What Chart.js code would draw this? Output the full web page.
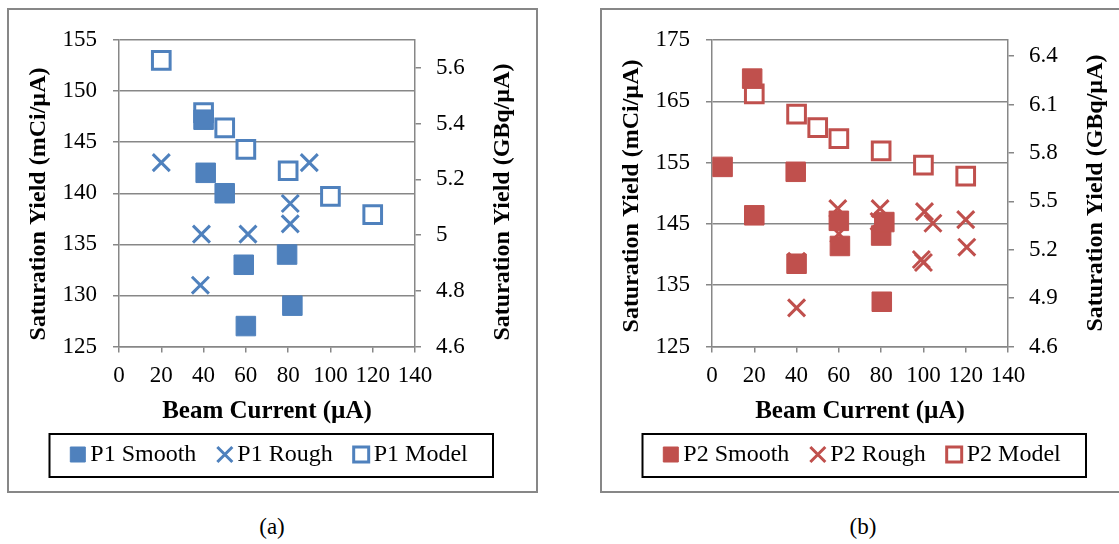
<!DOCTYPE html>
<html><head><meta charset="utf-8">
<script src="https://cdn.jsdelivr.net/npm/chart.js@4.4.0/dist/chart.umd.min.js"></script>
<style>
html,body{margin:0;padding:0;background:#fff;width:1119px;height:544px;overflow:hidden;position:relative;font-family:"Liberation Serif",serif;}
.frame{position:absolute;top:8px;width:527px;height:481px;border:2px solid #878787;background:#fff;}
.frame canvas{display:block;}
.cap{position:absolute;top:514px;width:100px;text-align:center;font-size:23px;line-height:26px;color:#000;}
</style></head><body>
<div class="frame" style="left:7px"><canvas id="c1" width="527" height="481"></canvas></div>
<div class="frame" style="left:600px"><canvas id="c2" width="527" height="481"></canvas></div>
<div class="cap" style="left:222px">(a)</div>
<div class="cap" style="left:813px">(b)</div>
<script>
// ---------- data ----------
const xTitle = 'Beam Current (µA)';
const yTitleLeft = 'Saturation Yield (mCi/µA)';
const yTitleRight = 'Saturation Yield (GBq/µA)';

const p1SmoothX = [40, 41, 50, 59, 60, 79.5, 82];
const p1SmoothY = [147.2, 142, 140, 133, 127, 134, 129];
const p1RoughX = [20, 39, 61, 38.5, 81, 81, 90];
const p1RoughY = [143, 136, 136, 131, 139, 137, 143];
const p1ModelX = [20, 40, 50, 60, 80, 100, 120];
const p1ModelY = [153, 147.9, 146.4, 144.3, 142.2, 139.7, 137.9];

const p2SmoothX = [5, 19, 20, 39.6, 40, 60, 60.5, 80, 81.5, 80.3];
const p2SmoothY = [154.3, 168.7, 146.4, 153.5, 138.5, 145.5, 141.4, 143.1, 145.3, 132.3];
const p2RoughX = [40, 40, 59.5, 60, 79.5, 79, 100.5, 104.5, 99, 100, 120, 120.5];
const p2RoughY = [131.3, 138.9, 147.5, 143.4, 147.5, 145.4, 147, 145.1, 139.2, 138.7, 145.7, 141.2];
const p2ModelX = [20, 40, 50, 60, 80, 100, 120];
const p2ModelY = [166.2, 162.9, 160.7, 158.9, 156.9, 154.6, 152.8];

const xTicksRange = [0, 140, 20];
const p1MciRange = [125, 155, 5];
const p2MciRange = [125, 175, 10];
const p1GbqTicks = [4.6, 4.8, 5, 5.2, 5.4, 5.6];
const p1GbqRange = [4.6, 5.7];
const p2GbqTicks = [4.6, 4.9, 5.2, 5.5, 5.8, 6.1, 6.4];
const p2GbqRange = [4.6, 6.5];

// ---------- styling ----------
const BLUE = '#4F81BD', RED = '#C0504D', GRID = '#878787';
const FONT = 'Liberation Serif';

const pts = (xs, ys) => xs.map((x, i) => ({x, y: ys[i]}));

function datasets(prefix, color, sx, sy, rx, ry, mx, my) {
  return [
    {label: prefix + ' Smooth', data: pts(sx, sy), pointStyle: 'rect', radius: 13.8,
     backgroundColor: color, borderColor: color, borderWidth: 1, yAxisID: 'y'},
    {label: prefix + ' Rough', data: pts(rx, ry), pointStyle: 'crossRot', radius: 12,
     backgroundColor: color, borderColor: color, borderWidth: 3, yAxisID: 'y'},
    {label: prefix + ' Model', data: pts(mx, my), pointStyle: 'rect', radius: 12.5,
     backgroundColor: '#ffffff', borderColor: color, borderWidth: 3, yAxisID: 'y'}
  ];
}

const framePlugin = {
  id: 'framePlugin',
  afterDraw(chart, args, opts) {
    const ctx = chart.ctx;
    ctx.save();
    ctx.strokeStyle = '#000';
    ctx.lineWidth = 2;
    ctx.strokeRect(opts.box[0], opts.box[1], opts.box[2], opts.box[3]);
    ctx.fillStyle = '#000';
    ctx.font = 'bold 24px "' + FONT + '"';
    ctx.textAlign = 'center';
    ctx.textBaseline = 'middle';
    opts.titles.forEach(t => {
      ctx.save();
      ctx.translate(t[1], t[2]);
      ctx.rotate(-Math.PI / 2);
      ctx.fillText(t[0], 0, 0);
      ctx.restore();
    });
    ctx.restore();
  }
};

function makeChart(id, ds, mciRange, gbqTicks, gbqRange, titlePos) {
  const tickFont = {family: FONT, size: 23};
  return new Chart(document.getElementById(id), {
    type: 'scatter',
    data: {datasets: ds},
    plugins: [framePlugin],
    options: {
      responsive: false,
      animation: false,
      devicePixelRatio: 1,
      layout: {padding: {left: 0, right: 0, top: 30, bottom: 14.5}},
      plugins: {
        tooltip: {enabled: false},
        legend: {
          position: 'bottom',
          labels: {usePointStyle: true, boxWidth: 1, boxHeight: 15, padding: 28,
                   color: '#000', font: {family: FONT, size: 24}}
        },
        framePlugin: {
          box: [40.5, 424, 443.5, 43],
          titles: [[yTitleLeft, 30, titlePos[0]], [yTitleRight, 494, titlePos[1]]]
        }
      },
      scales: {
        x: {
          type: 'linear', position: 'bottom',
          min: xTicksRange[0], max: xTicksRange[1],
          ticks: {stepSize: xTicksRange[2], color: '#000', font: tickFont, padding: 10, maxRotation: 0},
          grid: {drawOnChartArea: false, drawTicks: true, tickLength: 6, color: GRID, lineWidth: 1.5},
          border: {display: true, color: GRID, width: 1.5},
          title: {display: true, text: xTitle, color: '#000',
                  font: {family: FONT, size: 25, weight: 'bold'}, padding: {top: 0, bottom: -12}},
          afterFit: s => { s.height = 68; }
        },
        y: {
          type: 'linear', position: 'left',
          min: mciRange[0], max: mciRange[1],
          ticks: {stepSize: mciRange[2], color: '#000', font: tickFont, padding: 16},
          grid: {color: GRID, lineWidth: 1.5, tickLength: 6, drawTicks: true},
          border: {display: true, color: GRID, width: 1.5},
          afterFit: s => { s.width = 110; }
        },
        y2: {
          type: 'linear', position: 'right',
          min: gbqRange[0], max: gbqRange[1],
          afterBuildTicks: axis => { axis.ticks = gbqTicks.map(v => ({value: v})); },
          ticks: {color: '#000', font: tickFont, padding: 15, callback: v => String(v)},
          grid: {drawOnChartArea: false, drawTicks: true, tickLength: 6, color: GRID, lineWidth: 1.5},
          border: {display: true, color: GRID, width: 1.5},
          afterFit: s => { s.width = 121; }
        }
      }
    }
  });
}

makeChart('c1', datasets('P1', BLUE, p1SmoothX, p1SmoothY, p1RoughX, p1RoughY, p1ModelX, p1ModelY),
          p1MciRange, p1GbqTicks, p1GbqRange, [194, 192]);
makeChart('c2', datasets('P2', RED, p2SmoothX, p2SmoothY, p2RoughX, p2RoughY, p2ModelX, p2ModelY),
          p2MciRange, p2GbqTicks, p2GbqRange, [186, 183]);
</script>
</body></html>
